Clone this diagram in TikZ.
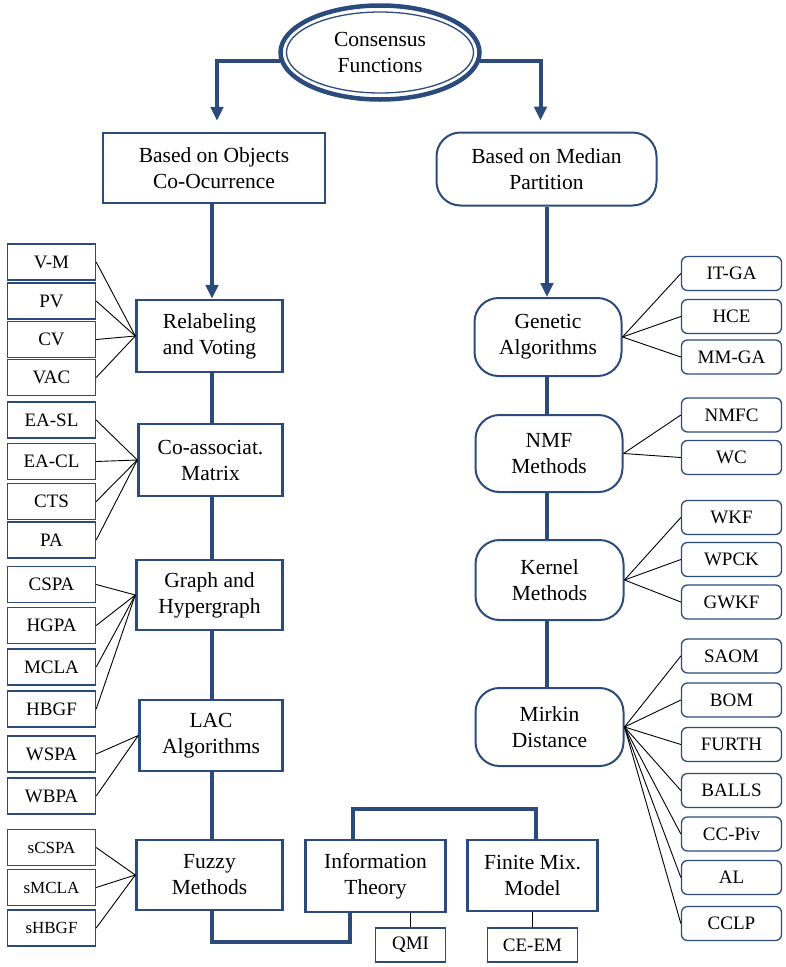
\documentclass[tikz,border=0pt]{standalone}
\usepackage{fontspec}
\setmainfont{Liberation Serif}
\usetikzlibrary{shapes.geometric,arrows.meta}

\definecolor{cfblue}{HTML}{2B4B7C}
\newcommand\cfmain{\fontsize{21.5}{26}\selectfont}
\newcommand\cfleaf{\fontsize{19}{22}\selectfont}
\newcommand\cfsmall{\fontsize{17}{20}\selectfont}

\tikzset{
  mainbox/.style={draw=cfblue, line width=2.4pt, align=center, inner sep=0pt, font=\cfmain},
  roundbox/.style={mainbox, line width=2pt, rounded corners=24pt},
  leaf/.style={draw=cfblue, line width=1.4pt, minimum width=88pt, minimum height=36pt, inner sep=0pt, font=\cfleaf},
  rleaf/.style={leaf, line width=1.3pt, rounded corners=6pt, minimum width=100pt, minimum height=34pt},
  trunk/.style={cfblue, line width=4pt},
  twig/.style={black, line width=0.9pt},
  tip/.style={-{Triangle[length=14pt,width=12.5pt]}}
}

\begin{document}
\begin{tikzpicture}[x=1pt,y=-1pt]
  \useasboundingbox (0,0) rectangle (786,967);

  % root
  \node[ellipse, draw=cfblue, line width=4.5pt, minimum width=199pt, minimum height=94pt, align=center, font=\cfmain] (cf) at (380,52.5) {Consensus\\Functions};
  \draw[cfblue, line width=1.3pt] (cf.center) ellipse [x radius=93.5, y radius=40.5];

  % two families
  \node[mainbox, minimum width=222pt, minimum height=70pt] (objects) at (214,168) {Based on Objects\\Co-Ocurrence};
  \node[roundbox, minimum width=220pt, minimum height=73pt] (median) at (546.5,169) {Based on Median\\Partition};

  % left column
  \node[mainbox, minimum width=146pt, minimum height=72pt] (relab) at (209.5,336) {Relabeling\\and Voting};
  \node[mainbox, minimum width=144pt, minimum height=72pt] (coassoc) at (210.5,460) {Co-associat.\\Matrix};
  \node[mainbox, minimum width=146pt, minimum height=70pt] (graph) at (209.5,595) {Graph and\\Hypergraph};
  \node[mainbox, minimum width=143pt, minimum height=71pt] (lac) at (211,735.5) {LAC\\Algorithms};
  \node[mainbox, minimum width=146pt, minimum height=70pt] (fuzzy) at (209.5,875) {Fuzzy\\Methods};
  \node[mainbox, minimum width=140pt, minimum height=72pt] (info) at (375.5,876) {Information\\Theory};
  \node[mainbox, minimum width=130pt, minimum height=71pt] (finite) at (532.5,875.5) {Finite Mix.\\Model};
  \node[leaf, minimum width=70pt, minimum height=34pt] (qmi) at (410.5,945) {QMI};
  \node[leaf, minimum width=90pt, minimum height=34pt] (ceem) at (532.5,945) {CE-EM};

  % right column
  \node[roundbox, minimum width=147pt, minimum height=78pt] (genetic) at (548,337) {Genetic\\Algorithms};
  \node[roundbox, minimum width=147pt, minimum height=77pt] (nmf) at (549,453.5) {NMF\\Methods};
  \node[roundbox, minimum width=148pt, minimum height=80pt] (kernel) at (549.5,580) {Kernel\\Methods};
  \node[roundbox, minimum width=148pt, minimum height=78pt] (mirkin) at (549.5,727) {Mirkin\\Distance};

  % trunk
  \coordinate (lt) at (212,0);
  \coordinate (rt) at (547,0);
  \draw[trunk, tip] (cf.185) -| ([xshift=3pt,yshift=11pt]objects.north);
  \draw[trunk, tip] (cf.-5) -| ([xshift=-6pt,yshift=11pt]median.north);
  \draw[trunk, tip] (objects.south -| lt) -- (relab.north -| lt);
  \draw[trunk] (relab.south -| lt) -- (coassoc.north -| lt);
  \draw[trunk] (coassoc.south -| lt) -- (graph.north -| lt);
  \draw[trunk] (graph.south -| lt) -- (lac.north -| lt);
  \draw[trunk] (lac.south -| lt) -- (fuzzy.north -| lt);
  \draw[trunk] (fuzzy.south -| lt) -- ++(0,31) -| ([xshift=-26pt]info.south);
  \draw[trunk] ([xshift=-23pt]info.north) -- ++(0,-30) -| ([xshift=3pt]finite.north);
  \draw[trunk, tip] (median.south -| rt) -- (genetic.north -| rt);
  \draw[trunk] (genetic.south -| rt) -- (nmf.north -| rt);
  \draw[trunk] (nmf.south -| rt) -- (kernel.north -| rt);
  \draw[trunk] (kernel.south -| rt) -- (mirkin.north -| rt);
  \draw[twig] (qmi.north |- info.south) -- (qmi.north);
  \draw[twig] (ceem.north |- finite.south) -- (ceem.north);

  % left leaves
  \foreach \name/\txt/\y in {vm/V-M/262, pv/PV/301, cv/CV/339.5, vac/VAC/377.5,
      easl/EA-SL/420, eacl/EA-CL/461.5, cts/CTS/501.5, pa/PA/540,
      cspa/CSPA/584.5, hgpa/HGPA/625.5, mcla/MCLA/667, hbgf/HBGF/709,
      wspa/WSPA/754, wbpa/WBPA/796}
    \node[leaf] (\name) at (51.5,\y) {\txt};
  \foreach \name/\txt/\y in {scspa/sCSPA/847.5, smcla/sMCLA/887.5, shbgf/sHBGF/928}
    \node[leaf, font=\cfsmall] (\name) at (51.5,\y) {\txt};

  \foreach \name in {vm,pv,cv,vac}
    \draw[twig] (\name.east) -- (relab.west);
  \foreach \name in {easl,eacl,cts,pa}
    \draw[twig] (\name.east) -- (coassoc.west);
  \foreach \name in {cspa,hgpa,mcla,hbgf}
    \draw[twig] (\name.east) -- (graph.west);
  \foreach \name in {wspa,wbpa}
    \draw[twig] (\name.east) -- (lac.west);
  \foreach \name in {scspa,smcla,shbgf}
    \draw[twig] (\name.east) -- (fuzzy.west);

  % right leaves
  \foreach \name/\txt/\y in {itga/IT-GA/273.5, hce/HCE/316.5, mmga/MM-GA/357,
      nmfc/NMFC/415, wc/WC/457.5,
      wkf/WKF/517.5, wpck/WPCK/559.5, gwkf/GWKF/602,
      saom/SAOM/656, bom/BOM/700, furth/FURTH/744.5, balls/BALLS/790.5,
      ccpiv/CC-Piv/834, al/AL/877.5, cclp/CCLP/923.5}
    \node[rleaf] (\name) at (731.5,\y) {\txt};

  \foreach \name in {itga,hce,mmga}
    \draw[twig] (genetic.east) -- (\name.west);
  \foreach \name in {nmfc,wc}
    \draw[twig] (nmf.east) -- (\name.west);
  \foreach \name in {wkf,wpck,gwkf}
    \draw[twig] (kernel.east) -- (\name.west);
  \foreach \name in {saom,bom,furth,balls,ccpiv,al,cclp}
    \draw[twig] (mirkin.east) -- (\name.west);
\end{tikzpicture}
\end{document}
